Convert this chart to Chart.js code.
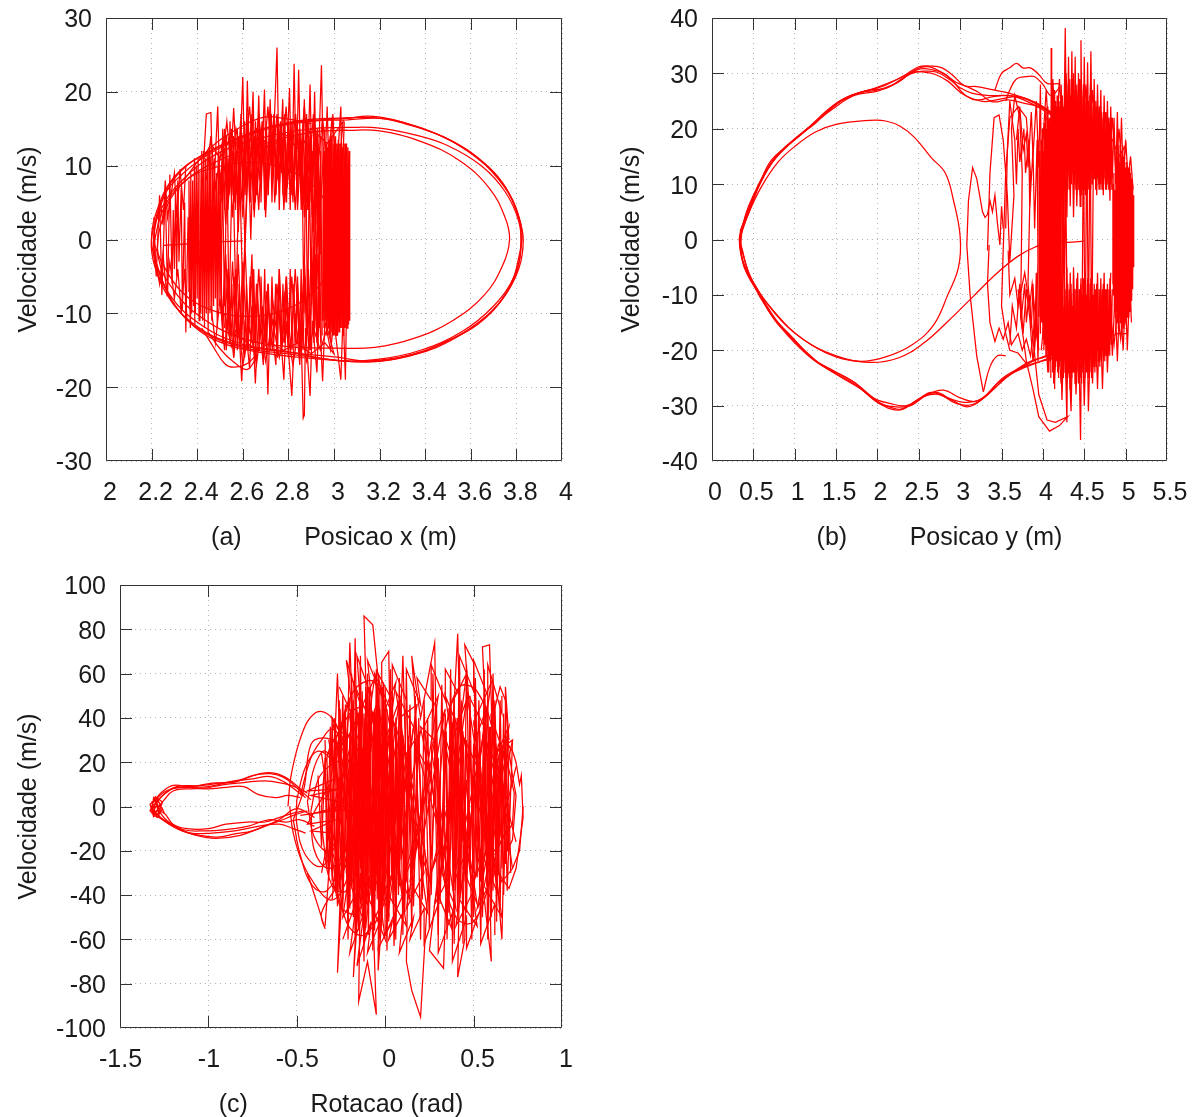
<!DOCTYPE html>
<html>
<head>
<meta charset="utf-8">
<title>Retrato de fase</title>
<script src="https://cdn.jsdelivr.net/npm/chart.js@4"></script>
<style>
  html, body { margin: 0; padding: 0; background: #fff; overflow: hidden; }
  body { position: relative; width: 1199px; height: 1117px; }
  .box { position: absolute; }
</style>
</head>
<body>
<div class="box" style="left:0;top:0;width:600px;height:560px"><canvas id="chartA"></canvas></div>
<div class="box" style="left:600px;top:0;width:599px;height:560px"><canvas id="chartB"></canvas></div>
<div class="box" style="left:0;top:560px;width:600px;height:572px"><canvas id="chartC"></canvas></div>
<script>
// tick labels
const xTicksA = [2, 2.2, 2.4, 2.6, 2.8, 3, 3.2, 3.4, 3.6, 3.8, 4];
const yTicksA = [-30, -20, -10, 0, 10, 20, 30];
const xTicksB = [0, 0.5, 1, 1.5, 2, 2.5, 3, 3.5, 4, 4.5, 5, 5.5];
const yTicksB = [-40, -30, -20, -10, 0, 10, 20, 30, 40];
const xTicksC = [-1.5, -1, -0.5, 0, 0.5, 1];
const yTicksC = [-100, -80, -60, -40, -20, 0, 20, 40, 60, 80, 100];

// (a) posicao x: smooth orbits
const aOrbit1 = [[3.06,16.4],[3.15,16.7],[3.25,16.3],[3.35,15.4],[3.5,13.6],[3.65,10.6],[3.75,7.2],[3.81,3],[3.83,0],[3.81,-4],[3.74,-8],[3.63,-11.5],[3.48,-14],[3.33,-15.8],[3.15,-16.6],[3,-16.3],[2.8,-15.5],[2.6,-14.6],[2.42,-12.4],[2.3,-8.8],[2.23,-4],[2.2,0],[2.23,4.5],[2.3,8.5],[2.42,11.4],[2.6,14],[2.8,15.8],[3.06,16.4]];
const aOrbit2 = [[3.06,16.5],[3.17,16.5],[3.3,15.9],[3.45,14.3],[3.6,11.8],[3.72,8.2],[3.8,4],[3.82,0],[3.8,-4.5],[3.73,-8.4],[3.6,-12],[3.45,-14.6],[3.28,-16],[3.1,-16.5],[2.9,-16.1],[2.7,-15.4],[2.5,-13.9],[2.36,-11],[2.26,-6.5],[2.21,-1],[2.24,5],[2.33,9.3],[2.45,11.8],[2.65,14.6],[2.85,16.1],[3.06,16.5]];
const aOrbit3 = [[3.05,15.2],[3.2,15.1],[3.35,14.2],[3.5,12.7],[3.65,9.9],[3.75,6.5],[3.81,2.5],[3.82,-1],[3.79,-5],[3.7,-9],[3.56,-12.5],[3.38,-15],[3.2,-16.2],[3.02,-16.4],[2.8,-15.2],[2.6,-14.2],[2.42,-11.6],[2.28,-7.5],[2.2,-1.5],[2.24,4],[2.35,8.5],[2.5,11.8],[2.7,13.9],[2.9,15],[3.05,15.2]];
const aOrbit4 = [[3.05,14.8],[3.2,14.7],[3.38,13.3],[3.55,10.7],[3.68,7],[3.75,3],[3.77,0],[3.74,-3.5],[3.66,-7.5],[3.52,-11],[3.35,-13.4],[3.18,-14.6],[3,-14.7],[2.8,-14.5],[2.6,-13.4],[2.42,-10.6],[2.3,-7],[2.23,-2.5],[2.25,3],[2.33,7.4],[2.48,10.5],[2.7,13],[2.9,14.5],[3.05,14.8]];
const aOrbit5 = [[3.06,16.2],[3.2,16.4],[3.32,15.6],[3.48,13.9],[3.62,11.2],[3.74,7.6],[3.82,2],[3.81,-2.5],[3.76,-7],[3.66,-10.6],[3.52,-13.4],[3.36,-15.4],[3.18,-16.5],[3,-15.9],[2.75,-15.1],[2.55,-14],[2.4,-11.8],[2.27,-7.6],[2.21,-2],[2.25,5.5],[2.34,9],[2.5,12.4],[2.7,14.9],[2.9,16],[3.06,16.2]];
const aInner = [[2.21,-0.5],[2.25,4],[2.34,7.8],[2.47,9.7],[2.65,10.4],[2.8,9.4],[2.92,7],[2.99,3],[3,0],[2.98,-4],[2.9,-7.4],[2.78,-9.6],[2.62,-10.4],[2.45,-9.4],[2.33,-7],[2.25,-3.4],[2.21,-0.5]];
const aUpperArc = [[2.34,8],[2.45,12.2],[2.6,15.4],[2.7,16.6],[2.78,16.4],[2.9,15.7]];
const aStart = [[2.6,-0.2],[2.45,-0.4],[2.36,-0.6],[2.25,-0.8]];
const aSag = [[2.42,-12],[2.47,-14.5],[2.52,-16.8],[2.56,-17.3],[2.62,-16.8],[2.66,-15.6],[2.62,-17.6],[2.56,-16.6],[2.5,-14.8],[2.45,-12.6]];
// (a) dense vertical strokes
const aCoreRight = [[2.95,-11],[2.953,11.5],[2.956,-12],[2.959,12],[2.962,-11],[2.965,13],[2.968,-13],[2.971,12.5],[2.974,-12],[2.977,13.5],[2.98,-13],[2.983,14],[2.986,-14],[2.989,13],[2.992,-12.5],[2.995,14],[2.998,-13],[3.001,13],[3.004,-13],[3.007,14],[3.01,-13],[3.013,13],[3.016,-13],[3.019,13.5],[3.022,-12.5],[3.025,13],[3.028,-12],[3.031,13],[3.034,-12],[3.037,12.5],[3.04,-13],[3.043,13],[3.046,-12],[3.049,13],[3.052,-12],[3.055,13],[3.058,-12],[3.061,12.5],[3.064,-11.5],[3.067,12],[3.069,-11]];
const aCoreLeft = [[2.36,-7],[2.364,8],[2.368,-9],[2.372,9],[2.376,-10],[2.38,8],[2.384,-9],[2.388,11],[2.392,-10],[2.396,10],[2.4,-8],[2.404,11],[2.408,-11],[2.412,9],[2.416,-10],[2.42,12],[2.424,-11],[2.428,12],[2.432,-12],[2.436,11],[2.44,-10],[2.444,12],[2.448,-13],[2.452,12],[2.456,-10],[2.46,11],[2.464,-11],[2.468,10],[2.472,-9],[2.476,11],[2.48,-8],[2.484,9],[2.488,-12],[2.492,12],[2.496,-9],[2.5,9],[2.505,-10],[2.51,10],[2.52,-9],[2.53,11],[2.54,-10],[2.555,12],[2.57,-9],[2.585,11],[2.6,-8],[2.62,9]];
const aEdgeLeft = [[2.21,3],[2.22,-5],[2.235,6],[2.245,-7.5],[2.26,7],[2.27,-7.7],[2.28,8.8],[2.29,-6],[2.295,4],[2.3,-4],[2.305,7],[2.31,-5],[2.315,8],[2.32,-3],[2.33,7],[2.335,-9.5],[2.345,5],[2.35,-12.6],[2.36,3],[2.37,-12],[2.38,5],[2.39,-11.5]];
const aEdgeLeft2 = [[2.24,5],[2.25,2],[2.26,8],[2.27,3],[2.285,6],[2.3,9],[2.31,3],[2.325,9.5],[2.34,4],[2.35,10]];
const aEdgeLeft3 = [[2.22,-3],[2.235,-6],[2.25,-2],[2.265,-7],[2.28,-3],[2.3,-8],[2.315,-4],[2.33,-10],[2.345,-4],[2.355,-11]];
const aCrossRight = [[2.86,11],[2.868,-10],[2.876,12],[2.884,-11],[2.892,10],[2.9,-9],[2.906,12],[2.912,-12],[2.918,11],[2.924,-11],[2.93,13],[2.936,-12],[2.942,12],[2.948,-13]];
const aTop = [[2.42,6],[2.44,17],[2.46,17.2],[2.47,5],[2.49,18],[2.5,6],[2.52,15],[2.54,6],[2.56,17.8],[2.58,5],[2.6,22],[2.61,6],[2.62,21.5],[2.63,8],[2.645,20],[2.655,5],[2.67,19.5],[2.68,7],[2.695,20.3],[2.705,6],[2.72,19],[2.73,9],[2.75,26],[2.76,7],[2.775,19],[2.785,5],[2.805,20.5],[2.815,6],[2.825,23.8],[2.835,8],[2.845,23],[2.855,7],[2.87,19],[2.88,5],[2.895,21],[2.905,6],[2.915,20],[2.925,4],[2.945,23.6],[2.955,6],[2.97,18],[2.98,7],[2.995,17],[3.01,8],[3.03,18],[3.035,7],[3.045,16]];
const aTop2 = [[2.5,8],[2.53,16],[2.55,9],[2.57,15],[2.6,10],[2.63,18],[2.65,9],[2.67,17],[2.69,10],[2.71,18],[2.73,10],[2.75,17],[2.77,10],[2.79,18],[2.81,9],[2.83,17],[2.85,10],[2.87,18],[2.89,9],[2.91,17],[2.93,10],[2.95,16.5],[2.97,9],[2.99,16],[3.02,9],[3.04,16],[2.97,13],[2.9,15],[2.85,12],[2.78,14.5],[2.72,12],[2.66,15],[2.6,12],[2.55,14],[2.5,11],[2.46,13],[2.43,11]];
const aTop3 = [[2.44,8],[2.46,14],[2.48,7],[2.51,13],[2.53,6],[2.55,15],[2.575,6],[2.59,16],[2.615,7],[2.64,17],[2.66,6],[2.685,16],[2.7,5],[2.725,17],[2.74,5],[2.765,16],[2.78,4],[2.8,16],[2.82,6],[2.84,15],[2.86,4],[2.885,16],[2.9,5],[2.92,15],[2.94,4],[2.96,15]];
const aDense1 = [[2.505,5],[2.512,15],[2.52,4],[2.528,14],[2.536,5],[2.544,16],[2.552,6],[2.56,14],[2.568,4],[2.576,15],[2.584,6],[2.592,17],[2.6,5],[2.608,16],[2.616,6],[2.624,17],[2.632,5],[2.64,15],[2.648,4],[2.656,16],[2.664,6],[2.672,17],[2.68,5],[2.688,16],[2.696,4],[2.704,15],[2.712,6],[2.72,16],[2.728,5],[2.736,17],[2.744,6],[2.752,16],[2.76,4],[2.768,15],[2.776,6],[2.784,17],[2.792,5],[2.8,15],[2.808,4],[2.816,16],[2.824,6],[2.832,17],[2.84,5],[2.848,15],[2.856,4],[2.864,16],[2.872,5],[2.88,17],[2.888,4],[2.896,15],[2.904,3],[2.912,16],[2.92,2],[2.928,15],[2.936,1],[2.944,14]];
const aDense2 = [[2.505,-5],[2.512,-14],[2.52,-4],[2.528,-15],[2.536,-5],[2.544,-14],[2.552,-6],[2.56,-16],[2.568,-4],[2.576,-15],[2.584,-6],[2.592,-14],[2.6,-5],[2.608,-16],[2.616,-6],[2.624,-15],[2.632,-5],[2.64,-14],[2.648,-4],[2.656,-16],[2.664,-6],[2.672,-15],[2.68,-5],[2.688,-14],[2.696,-4],[2.704,-16],[2.712,-6],[2.72,-15],[2.728,-5],[2.736,-14],[2.744,-6],[2.752,-16],[2.76,-4],[2.768,-15],[2.776,-6],[2.784,-14],[2.792,-5],[2.8,-16],[2.808,-4],[2.816,-15],[2.824,-6],[2.832,-14],[2.84,-5],[2.848,-16],[2.856,-4],[2.864,-15],[2.872,-5],[2.88,-14],[2.888,-4],[2.896,-15],[2.904,-3],[2.912,-14],[2.92,-2],[2.928,-15],[2.936,-1],[2.944,-14]];
const aMidUp = [[2.5,3],[2.51,10],[2.525,2],[2.54,11],[2.555,3],[2.57,12],[2.58,1],[2.595,13],[2.61,-1],[2.625,12],[2.635,0],[2.645,11],[2.65,3],[2.665,13],[2.675,8],[2.69,14],[2.7,3],[2.715,13],[2.725,10],[2.74,15],[2.745,6],[2.76,14],[2.77,9],[2.78,15],[2.795,7],[2.81,13],[2.82,5],[2.83,14],[2.84,4],[2.855,13],[2.865,6],[2.875,14],[2.885,4],[2.9,13],[2.91,2],[2.92,12],[2.93,-1],[2.94,11]];
const aMidUp2 = [[2.52,12],[2.535,4],[2.55,13],[2.565,5],[2.58,14],[2.6,3],[2.62,15],[2.63,5],[2.65,14],[2.67,4],[2.685,15],[2.71,7],[2.735,16],[2.75,8],[2.77,15],[2.79,6],[2.81,16],[2.83,4],[2.85,15],[2.87,3],[2.89,14],[2.91,1],[2.925,14],[2.94,-2]];
const aMidDown = [[2.5,-3],[2.51,-11],[2.525,-2],[2.54,-13],[2.555,-3],[2.57,-12],[2.58,-2],[2.595,-14],[2.61,-1],[2.625,-13],[2.64,-2],[2.65,-14],[2.66,-6],[2.675,-13],[2.685,-9],[2.7,-14],[2.71,-6],[2.72,-14],[2.73,-8],[2.75,-13],[2.76,-4],[2.775,-14],[2.785,-7],[2.8,-13],[2.815,-5],[2.83,-13],[2.84,-6],[2.855,-14],[2.87,-5],[2.885,-13],[2.9,-3],[2.915,-12],[2.93,-2],[2.94,-11]];
const aMidDown2 = [[2.52,-12],[2.535,-4],[2.55,-13],[2.565,-5],[2.585,-14],[2.6,-3],[2.62,-15],[2.635,-5],[2.655,-13],[2.67,-4],[2.69,-15],[2.705,-7],[2.73,-15],[2.75,-6],[2.77,-15],[2.79,-5],[2.81,-15],[2.83,-4],[2.85,-15],[2.87,-3],[2.89,-15],[2.91,-1],[2.925,-14],[2.94,2]];
const aBottom = [[2.46,-9],[2.48,-14],[2.5,-8],[2.52,-15],[2.54,-9],[2.56,-16],[2.58,-10],[2.595,-19.2],[2.61,-11],[2.63,-17.5],[2.64,-9],[2.655,-19.5],[2.67,-10],[2.69,-17],[2.7,-9],[2.71,-21],[2.72,-10],[2.745,-17],[2.755,-8],[2.78,-19],[2.79,-11],[2.815,-21.2],[2.83,-10],[2.85,-17],[2.855,-12],[2.865,-24.2],[2.87,-23.8],[2.875,-12],[2.895,-21.2],[2.905,-11],[2.925,-18],[2.935,-9],[2.95,-19.2],[2.96,-11],[2.985,-15],[3,-11],[3.03,-19],[3.04,-10],[3.05,-19],[3.055,-9]];
const aBottom2 = [[2.52,-10],[2.55,-14.5],[2.58,-11],[2.6,-17],[2.63,-12],[2.66,-17],[2.68,-12],[2.7,-16.5],[2.73,-11],[2.76,-16],[2.79,-12],[2.82,-17],[2.85,-11],[2.88,-16.5],[2.91,-12],[2.94,-15],[2.97,-12],[3,-15.5],[2.96,-14],[2.9,-15.5],[2.84,-14],[2.78,-15],[2.72,-14],[2.66,-15],[2.6,-13.5],[2.55,-12.5]];

// (b) posicao y: smooth orbits
const bOrbit1 = [[4.25,21],[4,23.4],[3.8,25],[3.6,26],[3.4,25.8],[3.2,25.2],[3.05,26.2],[2.9,28.8],[2.75,30.4],[2.6,31.2],[2.45,30.6],[2.25,28.4],[2,27],[1.75,26.4],[1.5,24.6],[1.25,21],[1,18.2],[0.75,14.6],[0.55,9.4],[0.4,3.8],[0.33,0],[0.4,-5],[0.55,-9],[0.75,-14.4],[1,-18.4],[1.25,-22],[1.5,-24.2],[1.75,-26.4],[2,-29.4],[2.25,-30.8],[2.45,-29.4],[2.7,-27.6],[2.9,-29],[3.1,-30.2],[3.3,-28.4],[3.5,-25.2],[3.7,-23.4],[4,-21.8],[4.3,-20.2]];
const bOrbit2 = [[4.2,21.5],[4,24],[3.8,25.4],[3.6,26.4],[3.4,27],[3.2,27.6],[3.05,27.8],[2.9,29.8],[2.78,31],[2.65,31.3],[2.5,31.2],[2.3,29.4],[2.05,27.6],[1.8,26.6],[1.55,25],[1.3,21.8],[1,18],[0.78,15],[0.58,10],[0.42,4],[0.34,-0.5],[0.42,-6],[0.6,-10.4],[0.8,-15],[1.05,-19],[1.3,-22.4],[1.55,-24.8],[1.8,-27],[2.02,-29.6],[2.2,-30.2],[2.4,-30],[2.6,-28],[2.8,-27.2],[3,-28.6],[3.2,-29.2],[3.4,-27],[3.6,-24.4],[3.85,-22],[4.2,-20.6]];
const bOrbit3 = [[4.15,22.4],[3.95,24.2],[3.75,25.6],[3.55,26],[3.35,26],[3.15,26.4],[3,27.4],[2.88,28.8],[2.72,30.2],[2.55,30.4],[2.4,29.9],[2.2,28],[2,26.8],[1.72,26],[1.48,23.8],[1.2,20.6],[0.95,17.4],[0.7,13.4],[0.5,8],[0.38,3],[0.36,-3],[0.48,-7.6],[0.68,-12.8],[0.92,-17.4],[1.2,-21.4],[1.45,-23.6],[1.7,-25.6],[1.95,-28.6],[2.15,-29.6],[2.35,-30],[2.55,-28.4],[2.75,-28],[2.95,-29.6],[3.15,-29.8],[3.35,-27.8],[3.55,-25],[3.75,-23],[4,-21.2],[4.3,-19.8]];
const bOrbit4 = [[4.1,23],[3.9,24.8],[3.7,25.8],[3.5,25.4],[3.3,24.9],[3.12,25.6],[3,26.6],[2.85,28.6],[2.7,29.8],[2.58,30.2],[2.42,30.2],[2.22,28.8],[1.98,27.4],[1.7,26],[1.45,24],[1.18,20.4],[0.9,16.8],[0.72,14.4],[0.6,11],[0.45,5],[0.35,1],[0.38,-4.6],[0.52,-8.4],[0.72,-13.6],[0.98,-17.8],[1.22,-21.6],[1.48,-23.8],[1.72,-25.8],[2,-29.2],[2.18,-30.4],[2.3,-30.6],[2.5,-28.8],[2.65,-27.6],[2.85,-28.6],[3.05,-29.4],[3.25,-28.8],[3.45,-26],[3.65,-24],[3.9,-22.4],[4.25,-21]];
const bOrbit5 = [[4.18,21.8],[3.98,23.8],[3.78,24.6],[3.58,25.2],[3.38,24.9],[3.22,26.6],[3.08,27.6],[2.95,28.4],[2.8,30],[2.68,30.6],[2.52,30.8],[2.35,29.6],[2.12,27.4],[1.88,26.9],[1.6,25.4],[1.35,22.4],[1.08,19],[0.82,15.6],[0.62,11.4],[0.46,6],[0.34,1.5]];
const bInner = [[0.33,0],[0.45,5],[0.6,9.6],[0.8,14],[1,16.8],[1.25,19.4],[1.5,20.8],[1.9,21.5],[2.1,21.4],[2.28,20.4],[2.45,18.4],[2.65,14.8],[2.82,12],[2.92,7],[3,0.5],[2.98,-5],[2.85,-10],[2.68,-15.4],[2.42,-19],[2.1,-21.2],[1.8,-22],[1.5,-21.2],[1.2,-19],[0.9,-15.6],[0.62,-10.6],[0.45,-6.2],[0.33,0]];
const bFinal = [[4.5,-0.3],[4.3,-0.5],[4.1,-0.4],[3.9,-1.4],[3.7,-3],[3.45,-6],[3.15,-10.4],[2.85,-14.8],[2.55,-18.8],[2.25,-21.4],[1.9,-22.2],[1.5,-21],[1.1,-18],[0.75,-13],[0.47,-7],[0.35,-1]];
const bSpike = [[3.28,-27.5],[3.2,-21],[3.12,-10],[3.08,-1],[3.1,7],[3.15,13],[3.2,11],[3.27,5],[3.3,4],[3.33,4.5],[3.36,7],[3.39,5],[3.42,8],[3.45,3],[3.48,-1],[3.5,6],[3.52,2]];
const bLumps = [[3.42,27],[3.5,30],[3.6,31],[3.68,31.8],[3.76,31],[3.85,31],[3.95,29.8],[4.05,28.2],[4.2,28],[4.1,26],[4,28],[3.9,29.4],[3.8,29.4],[3.68,29],[3.6,27],[3.55,25]];
const bLoops = [[3.33,-2],[3.36,12],[3.41,22],[3.47,22.5],[3.52,18],[3.57,8],[3.6,-4],[3.65,8],[3.62,20],[3.66,26],[3.72,22],[3.75,12],[3.74,-2],[3.73,-14],[3.8,-22],[3.88,-27],[3.95,-32],[4.08,-34.6],[4.2,-33.6],[4.3,-32],[4.15,-33],[4.05,-32.6],[3.95,-28],[3.88,-18],[3.82,-8],[3.85,12],[3.8,22],[3.7,24],[3.6,22],[3.55,12],[3.52,-2],[3.5,-12],[3.55,-17],[3.6,-20],[3.7,-20.5],[3.8,-22.4]];
const bLoops2 = [[3.35,-1],[3.33,-8],[3.36,-15],[3.42,-18.4],[3.47,-16],[3.52,-18],[3.58,-15],[3.62,-19],[3.7,-17],[3.75,-20],[3.8,-18],[3.85,-21],[3.9,-15],[3.95,-20],[3.87,-8],[3.84,-12],[3.78,-6],[3.7,-12],[3.66,-7],[3.6,-10],[3.58,-2]];
const bLoops3 = [[3.55,2],[3.57,16],[3.6,25],[3.66,18],[3.68,10],[3.7,20],[3.72,14],[3.77,20],[3.79,12],[3.83,18],[3.84,6],[3.88,16],[3.9,2],[3.93,18],[3.94,-4],[3.92,-16],[3.88,-22],[3.84,-14],[3.8,-9],[3.76,-17],[3.72,-8],[3.68,-16],[3.63,-12],[3.6,-19]];
const bSmall = [[3.68,18],[3.72,24],[3.76,16],[3.8,19],[3.82,13],[3.86,23],[3.88,15],[3.92,25],[3.95,13],[3.97,28],[3.98,11]];
const bSmall2 = [[3.7,-9],[3.74,-14],[3.78,-8],[3.8,-15],[3.83,-10],[3.86,-16],[3.88,-8],[3.9,-20],[3.92,-6],[3.94,-22],[3.96,-8]];
const bTail = [[3.28,-27.5],[3.36,-23],[3.45,-21],[3.55,-21]];
// (b) dense vertical strokes
const bCoreLeft = [[3.95,-14],[3.96,16],[3.97,-17],[3.978,18],[3.985,-15],[3.992,20],[4,-18],[4.006,16],[4.012,-20],[4.018,21],[4.024,-19],[4.03,23],[4.036,-21],[4.042,20],[4.048,-20],[4.054,24],[4.06,-22],[4.066,21],[4.072,-24],[4.078,22],[4.084,-22],[4.09,22],[4.096,-25],[4.1,34.6],[4.106,-21],[4.112,26],[4.118,-24],[4.124,27],[4.13,-26],[4.136,27],[4.142,-27],[4.148,25],[4.154,-23],[4.16,24],[4.166,-22],[4.172,26],[4.178,-24],[4.184,25],[4.19,-25],[4.196,24],[4.202,-23],[4.208,25],[4.215,-22],[4.225,20]];
const bCoreRight = [[4.84,-8],[4.846,10],[4.852,-10],[4.858,12],[4.864,-12],[4.87,9],[4.876,-14],[4.882,14],[4.888,-13],[4.894,16],[4.9,-15],[4.906,15],[4.912,-16],[4.918,17],[4.924,-14],[4.93,14],[4.936,-15],[4.942,16],[4.948,-17],[4.954,15],[4.96,-14],[4.966,17],[4.972,-16],[4.978,15],[4.984,-15],[4.99,14],[4.996,-14],[5.002,13],[5.008,-13],[5.014,14],[5.02,-14],[5.026,13],[5.032,-14],[5.038,13],[5.044,-13],[5.05,13],[5.055,-13],[5.06,12],[5.065,-11],[5.07,11],[5.075,-11],[5.08,10],[5.085,-9],[5.09,8],[5.095,-5],[5.1,3]];
const bCrossMid = [[4.47,-20],[4.49,19],[4.51,-22],[4.53,20],[4.55,-18],[4.57,22],[4.59,-20],[4.61,14]];
const bCrossLeft = [[4.23,-14],[4.245,16],[4.26,-11],[4.275,12],[4.29,-10]];
const bTop = [[4.2,8],[4.22,28],[4.25,15],[4.27,38.2],[4.29,12],[4.31,33],[4.33,10],[4.35,34],[4.37,9],[4.39,33],[4.41,8],[4.43,30],[4.45,6],[4.46,36],[4.48,9],[4.5,33],[4.52,11],[4.54,32],[4.56,10],[4.58,34],[4.6,12],[4.62,29],[4.64,10],[4.66,28],[4.68,13],[4.7,27],[4.72,10],[4.74,26],[4.76,12],[4.78,25],[4.8,9],[4.82,24],[4.84,11],[4.86,22],[4.88,10],[4.9,23],[4.92,9],[4.95,22],[4.97,10],[5,18],[5.03,11],[5.06,15],[5.09,9]];
const bTop2 = [[4,18],[4.04,27],[4.08,16],[4.12,29],[4.16,17],[4.2,29],[4.24,18],[4.28,30],[4.32,17],[4.36,29],[4.4,18],[4.44,29],[4.48,17],[4.52,28],[4.56,18],[4.6,27],[4.64,16],[4.68,24],[4.72,15],[4.76,23],[4.8,14],[4.84,22],[4.88,13],[4.92,20],[4.96,12],[5,17],[4.92,15],[4.84,18],[4.76,17],[4.68,20],[4.6,19],[4.52,22],[4.44,21],[4.36,23],[4.28,20],[4.2,22],[4.12,20],[4.04,22]];
const bTop3 = [[4.21,10],[4.235,26],[4.26,10],[4.285,27],[4.3,9],[4.325,29],[4.345,10],[4.37,30],[4.385,12],[4.41,28],[4.425,9],[4.45,29],[4.47,8],[4.49,28],[4.515,8],[4.535,27],[4.555,9],[4.575,28],[4.595,10],[4.615,26],[4.635,12],[4.655,25],[4.675,10],[4.695,24],[4.715,9],[4.735,23],[4.755,10],[4.775,23],[4.795,11],[4.815,22],[4.835,9]];
const bDense1 = [[4.22,12],[4.228,25],[4.238,10],[4.248,24],[4.258,12],[4.268,27],[4.278,9],[4.288,25],[4.298,11],[4.308,28],[4.318,9],[4.328,26],[4.338,10],[4.348,27],[4.358,12],[4.368,28],[4.378,10],[4.388,26],[4.398,9],[4.408,27],[4.418,10],[4.428,26],[4.438,9],[4.448,28],[4.458,8],[4.468,26],[4.478,10],[4.488,27],[4.498,9],[4.508,25],[4.518,10],[4.528,27],[4.538,8],[4.548,25],[4.558,11],[4.568,26],[4.578,9],[4.588,25],[4.598,10],[4.608,24],[4.618,11],[4.628,25],[4.638,9],[4.648,24],[4.658,11],[4.668,23],[4.678,9],[4.688,24],[4.698,10],[4.708,23],[4.718,9],[4.728,22],[4.738,11],[4.748,23],[4.758,9],[4.768,21],[4.778,10],[4.788,22],[4.798,9],[4.808,21],[4.818,10],[4.828,22],[4.838,9]];
const bDense2 = [[4.22,-11],[4.228,-24],[4.238,-10],[4.248,-25],[4.258,-12],[4.268,-24],[4.278,-9],[4.288,-26],[4.298,-11],[4.308,-24],[4.318,-9],[4.328,-27],[4.338,-10],[4.348,-25],[4.358,-12],[4.368,-24],[4.378,-10],[4.388,-26],[4.398,-9],[4.408,-24],[4.418,-10],[4.428,-26],[4.438,-9],[4.448,-25],[4.458,-8],[4.468,-26],[4.478,-10],[4.488,-24],[4.498,-9],[4.508,-25],[4.518,-10],[4.528,-24],[4.538,-8],[4.548,-25],[4.558,-11],[4.568,-24],[4.578,-9],[4.588,-25],[4.598,-10],[4.608,-23],[4.618,-11],[4.628,-24],[4.638,-9],[4.648,-23],[4.658,-11],[4.668,-22],[4.678,-9],[4.688,-23],[4.698,-10],[4.708,-22],[4.718,-9],[4.728,-21],[4.738,-11],[4.748,-22],[4.758,-9],[4.768,-21],[4.778,-10],[4.788,-20],[4.798,-9],[4.808,-21],[4.818,-10],[4.828,-19],[4.838,-9]];
const bMidUp = [[4.21,-3],[4.23,14],[4.25,-1],[4.27,20],[4.29,4],[4.31,24],[4.33,6],[4.35,22],[4.37,4],[4.39,18],[4.41,6],[4.43,21],[4.45,8],[4.47,24],[4.49,6],[4.51,20],[4.53,9],[4.55,25],[4.57,7],[4.59,22],[4.61,12],[4.63,25],[4.65,8],[4.67,20],[4.69,9],[4.71,23],[4.73,8],[4.75,20],[4.77,9],[4.79,22],[4.81,7],[4.83,20]];
const bMidDown = [[4.21,3],[4.23,-15],[4.25,1],[4.27,-20],[4.29,-5],[4.31,-24],[4.33,-6],[4.35,-22],[4.37,-5],[4.39,-18],[4.41,-7],[4.43,-21],[4.45,-9],[4.47,-24],[4.49,-7],[4.51,-20],[4.53,-10],[4.55,-24],[4.57,-8],[4.59,-22],[4.61,-10],[4.63,-23],[4.65,-8],[4.67,-20],[4.69,-9],[4.71,-22],[4.73,-8],[4.75,-20],[4.77,-9],[4.79,-21],[4.81,-7],[4.83,-18]];
const bMidDown2 = [[4.22,-9],[4.24,-22],[4.26,-7],[4.28,-25],[4.3,-8],[4.32,-23],[4.34,-8],[4.36,-24],[4.38,-9],[4.4,-24],[4.42,-6],[4.44,-24],[4.46,-7],[4.48,-22],[4.5,-8],[4.52,-23],[4.54,-7],[4.56,-21],[4.58,-7],[4.6,-21],[4.62,-8],[4.64,-22],[4.66,-6],[4.68,-21],[4.7,-7],[4.72,-20],[4.74,-6],[4.76,-21],[4.78,-8],[4.8,-19],[4.82,-6]];
const bBottom = [[4.2,-10],[4.23,-29],[4.26,-14],[4.29,-33],[4.3,-15],[4.34,-31],[4.37,-12],[4.4,-28],[4.43,-15],[4.455,-36.2],[4.47,-12],[4.5,-30],[4.53,-13],[4.55,-31],[4.58,-15],[4.6,-26],[4.63,-12],[4.66,-27],[4.69,-12],[4.72,-27],[4.75,-11],[4.78,-24],[4.81,-11],[4.84,-21],[4.87,-10],[4.9,-22],[4.93,-10],[4.97,-20],[5,-9],[5.02,-20],[5.05,-8],[5.07,-15]];
const bBottom2 = [[3.98,-20],[4.02,-14],[4.06,-24],[4.1,-15],[4.14,-25],[4.18,-16],[4.22,-26],[4.26,-18],[4.3,-25],[4.34,-18],[4.38,-24],[4.42,-17],[4.46,-25],[4.5,-18],[4.54,-24],[4.58,-17],[4.62,-23],[4.66,-16],[4.7,-21],[4.74,-15],[4.78,-20],[4.82,-14],[4.86,-19],[4.9,-13],[4.94,-18],[4.98,-12],[5.02,-17],[4.9,-17],[4.75,-18],[4.6,-20],[4.45,-23],[4.3,-22],[4.15,-20]];

// (c) rotacao: lobe, drawn as many rounds
const cLobe1 = [[-1.31,0],[-1.27,4],[-1.2,8],[-1.12,8.6],[-1,9],[-0.88,11],[-0.75,12.5],[-0.65,13.5],[-0.57,11],[-0.5,7],[-0.45,4]];
const cLobe2 = [[-1.3,1],[-1.26,5],[-1.18,9],[-1.05,9.4],[-0.95,10.4],[-0.82,12],[-0.7,15],[-0.62,15],[-0.55,12.5],[-0.48,8],[-0.44,6]];
const cLobe3 = [[-1.29,-1],[-1.25,3],[-1.2,7],[-1.1,8],[-1,8],[-0.9,8.6],[-0.8,9],[-0.72,5.5],[-0.62,4],[-0.55,5],[-0.48,4]];
const cLobe4 = [[-1.31,2],[-1.27,6],[-1.2,9.5],[-1.1,9],[-0.98,10.6],[-0.85,11],[-0.75,14],[-0.65,14.8],[-0.58,13.4],[-0.52,10],[-0.46,5]];
const cLobe5 = [[-1.32,-1],[-1.27,-5],[-1.22,-8],[-1.15,-11],[-1.05,-13],[-0.95,-13.8],[-0.85,-12.4],[-0.75,-11],[-0.65,-8],[-0.58,-6],[-0.52,-4],[-0.44,-2]];
const cLobe6 = [[-1.3,-2],[-1.25,-3],[-1.2,-8],[-1.12,-10],[-1,-10],[-0.9,-8],[-0.78,-7],[-0.68,-7],[-0.6,-5],[-0.52,-3],[-0.46,-2]];
const cLobe7 = [[-1.31,-3],[-1.26,-6],[-1.2,-9],[-1.1,-12],[-0.98,-12],[-0.85,-11],[-0.72,-9],[-0.6,-8],[-0.52,-10],[-0.45,-12]];
const cLobe8 = [[-1.29,-1],[-1.24,-6],[-1.17,-10],[-1.07,-13],[-0.96,-14.4],[-0.82,-13],[-0.7,-9.4],[-0.6,-6],[-0.5,-1],[-0.4,-5]];
const cLobe9 = [[-1.3,3],[-1.24,7],[-1.16,8.8],[-1.03,8.2],[-0.92,9.8],[-0.8,10.8],[-0.68,11.6],[-0.58,10.4],[-0.5,8.5],[-0.42,3]];
const cLobe10 = [[-1.3,-4],[-1.23,-7],[-1.14,-10.5],[-1.02,-11],[-0.9,-10.4],[-0.78,-9],[-0.66,-6],[-0.56,-7],[-0.48,-6],[-0.4,-9]];
const cCurl = [[-1.29,2],[-1.32,-1],[-1.3,-4],[-1.27,-2],[-1.3,3],[-1.33,1],[-1.31,-4.6],[-1.28,-3],[-1.26,2],[-1.3,4.4],[-1.33,-2],[-1.29,-5],[-1.26,-1],[-1.25,-3],[-1.29,3.6],[-1.32,2],[-1.3,-3],[-1.27,1],[-1.31,4],[-1.32,-3],[-1.28,-4],[-1.29,1],[-1.31,-2],[-1.3,2],[-1.28,-1],[-1.31,1]];
const cEllipse1 = [[-0.55,0],[-0.53,15],[-0.47,33],[-0.4,42],[-0.33,42],[-0.27,36],[-0.2,18],[-0.17,0]];
const cEllipse2 = [[-0.52,-6],[-0.46,8],[-0.42,28],[-0.35,31],[-0.28,28],[-0.22,12],[-0.2,-6],[-0.25,-25],[-0.33,-38],[-0.41,-36],[-0.48,-22],[-0.52,-6]];
const cEllipse3 = [[-0.5,3],[-0.45,18],[-0.38,25],[-0.3,20],[-0.26,5],[-0.28,-16],[-0.36,-27],[-0.45,-22],[-0.5,-8],[-0.5,3]];
const cEllipse4 = [[-0.54,0],[-0.52,-12],[-0.47,-25],[-0.4,-35],[-0.32,-42],[-0.26,-40],[-0.2,-28],[-0.17,-8]];
const cEllipse5 = [[-0.44,2],[-0.4,18],[-0.34,25],[-0.27,14],[-0.25,-5],[-0.32,-20],[-0.4,-14],[-0.44,2]];
const cEllipse6 = [[-0.48,5],[-0.42,22],[-0.36,30],[-0.3,35],[-0.24,28],[-0.2,5],[-0.24,-30],[-0.36,-48],[-0.34,-55],[-0.38,-45],[-0.44,-30]];
const cEllipse7 = [[-0.42,-2],[-0.38,12],[-0.32,18],[-0.25,20],[-0.2,8],[-0.18,-10],[-0.24,-22],[-0.32,-28],[-0.4,-20],[-0.42,-2]];
const cEllipse8 = [[-0.36,0],[-0.33,22],[-0.26,33],[-0.18,30],[-0.12,10],[-0.14,-20],[-0.22,-38],[-0.3,-36],[-0.35,-15],[-0.36,0]];
const cEllipse9 = [[-0.32,5],[-0.28,25],[-0.2,42],[-0.1,44],[-0.04,20],[-0.06,-25],[-0.16,-48],[-0.26,-44],[-0.32,-12],[-0.32,5]];
const cEllipse10 = [[-0.3,0],[-0.26,30],[-0.18,52],[-0.06,56],[0.04,30],[0.08,-8],[0,-42],[-0.12,-58],[-0.22,-52],[-0.3,-22],[-0.3,0]];
const cEllipse11 = [[0.3,4],[0.34,34],[0.42,54],[0.52,52],[0.62,30],[0.66,0],[0.6,-30],[0.5,-52],[0.4,-50],[0.32,-26],[0.3,4]];
// (c) jagged passes, left to right and back
const cPassTall = [[-0.34,-54],[-0.31,-20],[-0.27,60],[-0.24,-10],[-0.27,-75],[-0.23,-20],[-0.2,74],[-0.18,30],[-0.17,76],[-0.15,-30],[-0.18,-77],[-0.14,-30],[-0.15,-88],[-0.1,-70],[-0.05,-94],[-0.09,0],[-0.12,86],[-0.07,82],[-0.03,50],[-0.04,-74],[-0.01,-40],[-0.02,65],[0.02,70],[0.05,-63],[0.08,20],[0.1,68],[0.13,-20],[0.12,-70],[0.15,-83],[0.2,-95],[0.24,-40],[0.15,68],[0.2,40],[0.28,74],[0.3,-30],[0.25,-65],[0.33,-73],[0.36,0],[0.41,78],[0.43,10],[0.41,-77],[0.45,-60],[0.48,40],[0.45,73],[0.5,65],[0.53,-20],[0.6,-70],[0.58,20],[0.55,72],[0.59,73],[0.63,-30],[0.66,-60],[0.68,10],[0.68,54],[0.7,30]];
const cPass1 = [[-0.3,30],[-0.27,-45],[-0.24,50],[-0.21,-60],[-0.19,60],[-0.17,-60],[-0.14,68],[-0.12,-70],[-0.1,60],[-0.07,-65],[-0.05,62],[-0.03,-58],[-0.01,56],[0.01,-65],[0.03,62],[0.06,-60],[0.08,58],[0.1,-58],[0.12,58],[0.15,-55],[0.17,50],[0.2,-60],[0.22,48],[0.25,-55],[0.27,60],[0.3,-58],[0.32,55],[0.35,-60],[0.37,62],[0.39,-62],[0.42,66],[0.44,-62],[0.46,64],[0.49,-60],[0.51,58],[0.54,-58],[0.56,62],[0.58,-60],[0.61,60],[0.63,-52],[0.65,48],[0.67,-40],[0.69,35],[0.71,-30]];
const cPass2 = [[0.72,30],[0.69,-38],[0.67,42],[0.65,-45],[0.62,48],[0.6,-50],[0.58,50],[0.55,-50],[0.53,48],[0.5,-50],[0.48,50],[0.46,-48],[0.43,48],[0.41,-50],[0.39,50],[0.36,-48],[0.34,42],[0.31,-44],[0.29,46],[0.26,-40],[0.24,40],[0.21,-42],[0.19,40],[0.16,-45],[0.14,46],[0.11,-48],[0.09,50],[0.06,-50],[0.04,52],[0.02,-52],[0,54],[-0.02,-54],[-0.04,55],[-0.07,-55],[-0.09,54],[-0.11,-55],[-0.13,52],[-0.16,-52],[-0.18,48],[-0.2,-46],[-0.23,42],[-0.26,-38],[-0.28,36],[-0.31,-25],[-0.33,22]];
const cPass3 = [[-0.28,22],[-0.25,-24],[-0.22,32],[-0.2,-34],[-0.18,38],[-0.165,-38],[-0.15,42],[-0.135,-42],[-0.12,42],[-0.105,-44],[-0.09,44],[-0.075,-44],[-0.06,44],[-0.045,-42],[-0.03,44],[-0.015,-44],[0,46],[0.015,-44],[0.03,44],[0.045,-44],[0.06,40],[0.075,-40],[0.09,36],[0.11,-36],[0.13,32],[0.15,-30],[0.17,30],[0.2,-26],[0.23,24],[0.26,-24],[0.29,28],[0.32,-30],[0.345,34],[0.36,-36],[0.38,38],[0.395,-38],[0.41,40],[0.425,-38],[0.44,34],[0.46,-32],[0.48,30],[0.5,-30],[0.52,32],[0.54,-34],[0.56,36],[0.575,-36],[0.59,36],[0.605,-34],[0.62,32],[0.64,-30],[0.66,28],[0.68,-26],[0.7,24]];
const cDiag1 = [[-0.3,-42],[-0.2,48],[-0.28,30],[-0.12,-52],[-0.22,-30],[-0.06,58],[-0.16,40],[0,-60],[-0.1,-40],[0.06,56],[-0.04,36],[0.12,-54],[0.02,-40],[0.18,46],[0.08,40],[0.24,-48],[0.14,-34],[0.3,50],[0.22,36],[0.38,-56],[0.3,-40],[0.46,60],[0.36,44],[0.52,-54],[0.42,-42],[0.6,56],[0.5,38],[0.66,-50],[0.56,-36],[0.72,30],[0.62,24]];
const cDiag2 = [[0.72,-28],[0.6,40],[0.68,22],[0.52,-46],[0.62,-30],[0.46,52],[0.56,36],[0.4,-54],[0.5,-38],[0.34,50],[0.44,30],[0.28,-44],[0.36,-32],[0.2,36],[0.28,30],[0.12,-46],[0.22,-30],[0.06,52],[0.16,36],[0,-58],[0.1,-40],[-0.06,60],[0.04,42],[-0.12,-60],[-0.02,-44],[-0.18,56],[-0.08,38],[-0.24,-50],[-0.14,-36],[-0.3,40],[-0.22,28],[-0.36,-30]];
const cDiag3 = [[-0.36,24],[-0.26,-32],[-0.32,-14],[-0.16,40],[-0.24,26],[-0.1,-44],[-0.18,-28],[-0.04,48],[-0.12,30],[0.02,-48],[-0.06,-32],[0.08,48],[0,30],[0.14,-42],[0.06,-28],[0.2,34],[0.12,24],[0.26,-36],[0.2,-20],[0.34,44],[0.26,26],[0.4,-46],[0.32,-30],[0.46,48],[0.38,30],[0.52,-44],[0.44,-28],[0.58,46],[0.5,28],[0.64,-40],[0.56,-24],[0.7,36],[0.62,22],[0.74,-16]];
const cDiag4 = [[0.74,18],[0.62,-22],[0.7,-8],[0.56,32],[0.64,16],[0.5,-34],[0.58,-18],[0.44,32],[0.52,18],[0.38,-36],[0.46,-20],[0.32,36],[0.4,16],[0.26,-30],[0.32,-16],[0.18,26],[0.26,14],[0.1,-34],[0.18,-18],[0.04,40],[0.12,22],[-0.02,-42],[0.06,-26],[-0.08,44],[0,28],[-0.14,-44],[-0.06,-26],[-0.2,40],[-0.12,24],[-0.26,-34],[-0.18,-18],[-0.32,30]];
const cDiag5 = [[-0.24,-60],[-0.16,-42],[-0.2,-66],[-0.12,-48],[-0.16,-72],[-0.08,-52],[-0.1,-66],[-0.02,-50],[-0.04,-64],[0.04,-52],[0.02,-60],[0.1,-48],[0.08,-66],[0.16,-50],[0.14,-60],[0.22,-46],[0.22,-62],[0.3,-44],[0.3,-66],[0.38,-48],[0.38,-70],[0.46,-50],[0.46,-64],[0.54,-46],[0.54,-62],[0.62,-44],[0.62,-58]];
const cDiag6 = [[-0.26,54],[-0.18,40],[-0.22,66],[-0.14,46],[-0.16,68],[-0.08,50],[-0.1,66],[-0.02,50],[-0.04,60],[0.04,48],[0.04,64],[0.12,48],[0.12,62],[0.2,46],[0.18,58],[0.26,48],[0.26,64],[0.34,48],[0.34,62],[0.42,50],[0.42,68],[0.5,52],[0.5,66],[0.58,50],[0.58,64],[0.66,42],[0.66,50]];
const cFill1 = [[-0.22,-30],[-0.2,32],[-0.19,-36],[-0.17,34],[-0.155,-40],[-0.145,42],[-0.13,-38],[-0.115,40],[-0.105,-42],[-0.09,38],[-0.08,-40],[-0.065,42],[-0.055,-38],[-0.04,40],[-0.03,-44],[-0.015,42],[-0.005,-40],[0.01,44],[0.02,-42],[0.035,40],[0.05,-38],[0.065,36],[0.08,-36],[0.1,32],[0.12,-34],[0.14,28],[0.16,-28],[0.18,22]];
const cFill2 = [[0.7,-22],[0.68,24],[0.66,-28],[0.65,26],[0.635,-32],[0.62,34],[0.61,-38],[0.595,36],[0.58,-40],[0.565,38],[0.55,-36],[0.535,34],[0.52,-32],[0.5,28],[0.48,-26],[0.46,30],[0.445,-34],[0.43,36],[0.415,-40],[0.4,40],[0.385,-38],[0.37,34],[0.355,-32],[0.34,28],[0.32,-24],[0.3,22]];
const cFill3 = [[-0.34,30],[-0.33,-28],[-0.31,36],[-0.3,-34],[-0.285,40],[-0.27,-40],[-0.255,44],[-0.24,-42],[-0.225,46],[-0.21,-48],[-0.195,44],[-0.18,-50],[-0.165,52],[-0.15,-56],[-0.14,50],[-0.125,-52],[-0.11,54],[-0.095,-58],[-0.08,52],[-0.06,-56],[-0.045,56],[-0.03,-52],[-0.015,54],[0,-56]];
const cCoreLeft = [[-0.18,20],[-0.172,-22],[-0.164,24],[-0.156,-24],[-0.148,28],[-0.14,-28],[-0.132,26],[-0.124,-30],[-0.116,28],[-0.108,-26],[-0.1,30],[-0.092,-30],[-0.084,26],[-0.076,-28],[-0.068,30],[-0.06,-30],[-0.052,28],[-0.044,-30],[-0.036,30],[-0.028,-32],[-0.02,28],[-0.012,-28],[-0.004,30],[0.004,-30],[0.012,26],[0.02,-26],[0.028,28],[0.036,-30],[0.044,30],[0.052,-30],[0.06,26],[0.07,-26],[0.08,24],[0.09,-24],[0.1,20],[0.115,-20],[0.13,16]];
const cCoreRight = [[0.37,18],[0.38,-20],[0.39,22],[0.4,-22],[0.41,20],[0.42,-20],[0.43,14],[0.44,-16],[0.46,12],[0.48,-14],[0.5,14],[0.52,-16],[0.54,18],[0.55,-20],[0.56,22],[0.57,-22],[0.58,20],[0.59,-22],[0.6,20],[0.61,-20],[0.62,18],[0.63,-18],[0.64,14],[0.65,-14]];
const cWide = [[0.64,-30],[0.7,-37],[0.74,-28],[0.78,-5],[0.77,14],[0.76,10],[0.74,20],[0.72,25],[0.68,30],[0.63,20],[0.7,0],[0.69,-20],[0.72,-15],[0.74,5],[0.72,14],[0.7,25],[0.68,48],[0.65,54],[0.6,38],[0.64,10]];
const cWide2 = [[0.78,0],[0.76,-20],[0.72,-28],[0.66,-34],[0.6,-22],[0.72,-8],[0.73,6],[0.69,20],[0.64,28],[0.6,8]];
const cPassEdge = [[-0.38,14],[-0.36,-18],[-0.34,22],[-0.32,-32],[-0.3,40],[-0.28,-38],[-0.26,48],[-0.24,-46],[-0.22,12],[-0.21,-12],[-0.19,15],[-0.2,-16]];
const cRays = [[-0.48,-4],[-0.3,-2],[-0.15,-1],[-0.4,-3],[-0.2,1],[-0.42,5],[-0.25,8],[-0.44,7],[-0.3,12],[-0.44,-8],[-0.28,-6],[-0.42,-11],[-0.3,-12]];

const seriesA = [aOrbit1, aOrbit2, aOrbit3, aOrbit4, aOrbit5, aInner, aUpperArc, aStart, aSag];
const jaggedA = [aCoreRight, aCoreLeft, aEdgeLeft, aEdgeLeft2, aEdgeLeft3, aCrossRight, aTop, aTop2, aTop3, aDense1, aDense2, aMidUp, aMidUp2, aMidDown, aMidDown2, aBottom, aBottom2];
const seriesB = [bOrbit1, bOrbit2, bOrbit3, bOrbit4, bOrbit5, bInner, bFinal, bLumps, bTail];
const jaggedB = [bSpike, bLoops, bLoops2, bLoops3, bSmall, bSmall2, bCoreLeft, bCoreRight, bCrossMid, bCrossLeft, bTop, bTop2, bTop3, bDense1, bDense2, bMidUp, bMidDown, bMidDown2, bBottom, bBottom2];
const seriesC = [cLobe1, cLobe2, cLobe3, cLobe4, cLobe5, cLobe6, cLobe7, cLobe8, cLobe9, cLobe10, cEllipse1, cEllipse2, cEllipse3, cEllipse4, cEllipse5, cEllipse6, cEllipse7, cEllipse8, cEllipse9, cEllipse10, cEllipse11];
const jaggedC = [cCurl, cPassTall, cPass1, cPass2, cPass3, cDiag1, cDiag2, cDiag3, cDiag4, cDiag5, cDiag6, cFill1, cFill2, cFill3, cCoreLeft, cCoreRight, cWide, cWide2, cPassEdge, cRays];

const FONT = { family: '"Liberation Sans", Arial, sans-serif', size: 25 };
const TEXT = '#1a1a1a';

// gnuplot style frame with ticks pointing inward on all four sides
const frameTicks = {
  id: 'frameTicks',
  afterDraw(chart) {
    const { ctx, chartArea: a, scales } = chart;
    ctx.save();
    ctx.strokeStyle = '#333';
    ctx.lineWidth = 1;
    ctx.beginPath();
    scales.x.ticks.slice(1, -1).forEach(t => {
      const px = Math.round(scales.x.getPixelForValue(t.value)) + 0.5;
      ctx.moveTo(px, a.top); ctx.lineTo(px, a.top + 12);
      ctx.moveTo(px, a.bottom); ctx.lineTo(px, a.bottom - 12);
    });
    scales.y.ticks.slice(1, -1).forEach(t => {
      const py = Math.round(scales.y.getPixelForValue(t.value)) + 0.5;
      ctx.moveTo(a.left, py); ctx.lineTo(a.left + 12, py);
      ctx.moveTo(a.right, py); ctx.lineTo(a.right - 12, py);
    });
    ctx.rect(a.left + 0.5, a.top + 0.5, a.right - a.left - 1, a.bottom - a.top - 1);
    ctx.stroke();
    ctx.restore();
  }
};

function toDataset(list, tension) {
  return {
    data: list.map(p => ({ x: p[0], y: p[1] })),
    showLine: true,
    borderColor: '#ff0000',
    borderWidth: 1.25,
    pointRadius: 0,
    tension: tension
  };
}

function makePanel(id, cfg) {
  new Chart(document.getElementById(id), {
    type: 'scatter',
    data: {
      datasets: cfg.smooth.map(s => toDataset(s, 0.4)).concat(cfg.jagged.map(s => toDataset(s, 0)))
    },
    options: {
      responsive: true,
      maintainAspectRatio: false,
      animation: false,
      layout: { padding: { top: cfg.top, right: cfg.right, left: 0, bottom: 0 } },
      plugins: { legend: { display: false }, tooltip: { enabled: false } },
      scales: {
        x: {
          type: 'linear',
          min: cfg.xTicks[0],
          max: cfg.xTicks[cfg.xTicks.length - 1],
          afterBuildTicks: s => { s.ticks = cfg.xTicks.map(v => ({ value: v })); },
          afterFit: s => { s.height = cfg.xHeight; s.paddingLeft = 0; s.paddingRight = 0; },
          grid: { color: 'rgba(0,0,0,0.3)', drawTicks: false },
          border: { display: false, dash: [1, 4] },
          ticks: { font: FONT, color: TEXT, padding: 17, labelOffset: cfg.labelOffset, maxRotation: 0, autoSkip: false, callback: v => v < 0 ? v + ' ' : String(v) },
          title: { display: true, text: cfg.xTitle, font: FONT, color: TEXT, padding: { top: cfg.xTitlePad, bottom: cfg.xTitlePad } }
        },
        y: {
          type: 'linear',
          min: cfg.yTicks[0],
          max: cfg.yTicks[cfg.yTicks.length - 1],
          afterBuildTicks: s => { s.ticks = cfg.yTicks.map(v => ({ value: v })); },
          afterFit: s => { s.width = cfg.yWidth; s.paddingTop = 0; s.paddingBottom = 0; },
          grid: { color: 'rgba(0,0,0,0.3)', drawTicks: false },
          border: { display: false, dash: [1, 4] },
          ticks: { font: FONT, color: TEXT, padding: 14, labelOffset: 2.5, autoSkip: false, callback: v => String(v) },
          title: { display: true, text: 'Velocidade (m/s)', font: FONT, color: TEXT, padding: { top: cfg.yTitlePad, bottom: cfg.yTitlePad } }
        }
      }
    },
    plugins: [frameTicks]
  });
}

makePanel('chartA', {
  smooth: seriesA, jagged: jaggedA, xTicks: xTicksA, yTicks: yTicksA,
  xTitle: '(a)         Posicao x (m)', labelOffset: 4,
  top: 18, right: 38, xHeight: 99, yWidth: 106, xTitlePad: 7, yTitlePad: 14
});
makePanel('chartB', {
  smooth: seriesB, jagged: jaggedB, xTicks: xTicksB, yTicks: yTicksB,
  xTitle: '(b)         Posicao y (m)', labelOffset: 3,
  top: 18, right: 32, xHeight: 99, yWidth: 112, xTitlePad: 7, yTitlePad: 17
});
makePanel('chartC', {
  smooth: seriesC, jagged: jaggedC, xTicks: xTicksC, yTicks: yTicksC,
  xTitle: '(c)         Rotacao (rad)', labelOffset: 4,
  top: 25, right: 38, xHeight: 104, yWidth: 120, xTitlePad: 12, yTitlePad: 14
});
</script>
</body>
</html>
